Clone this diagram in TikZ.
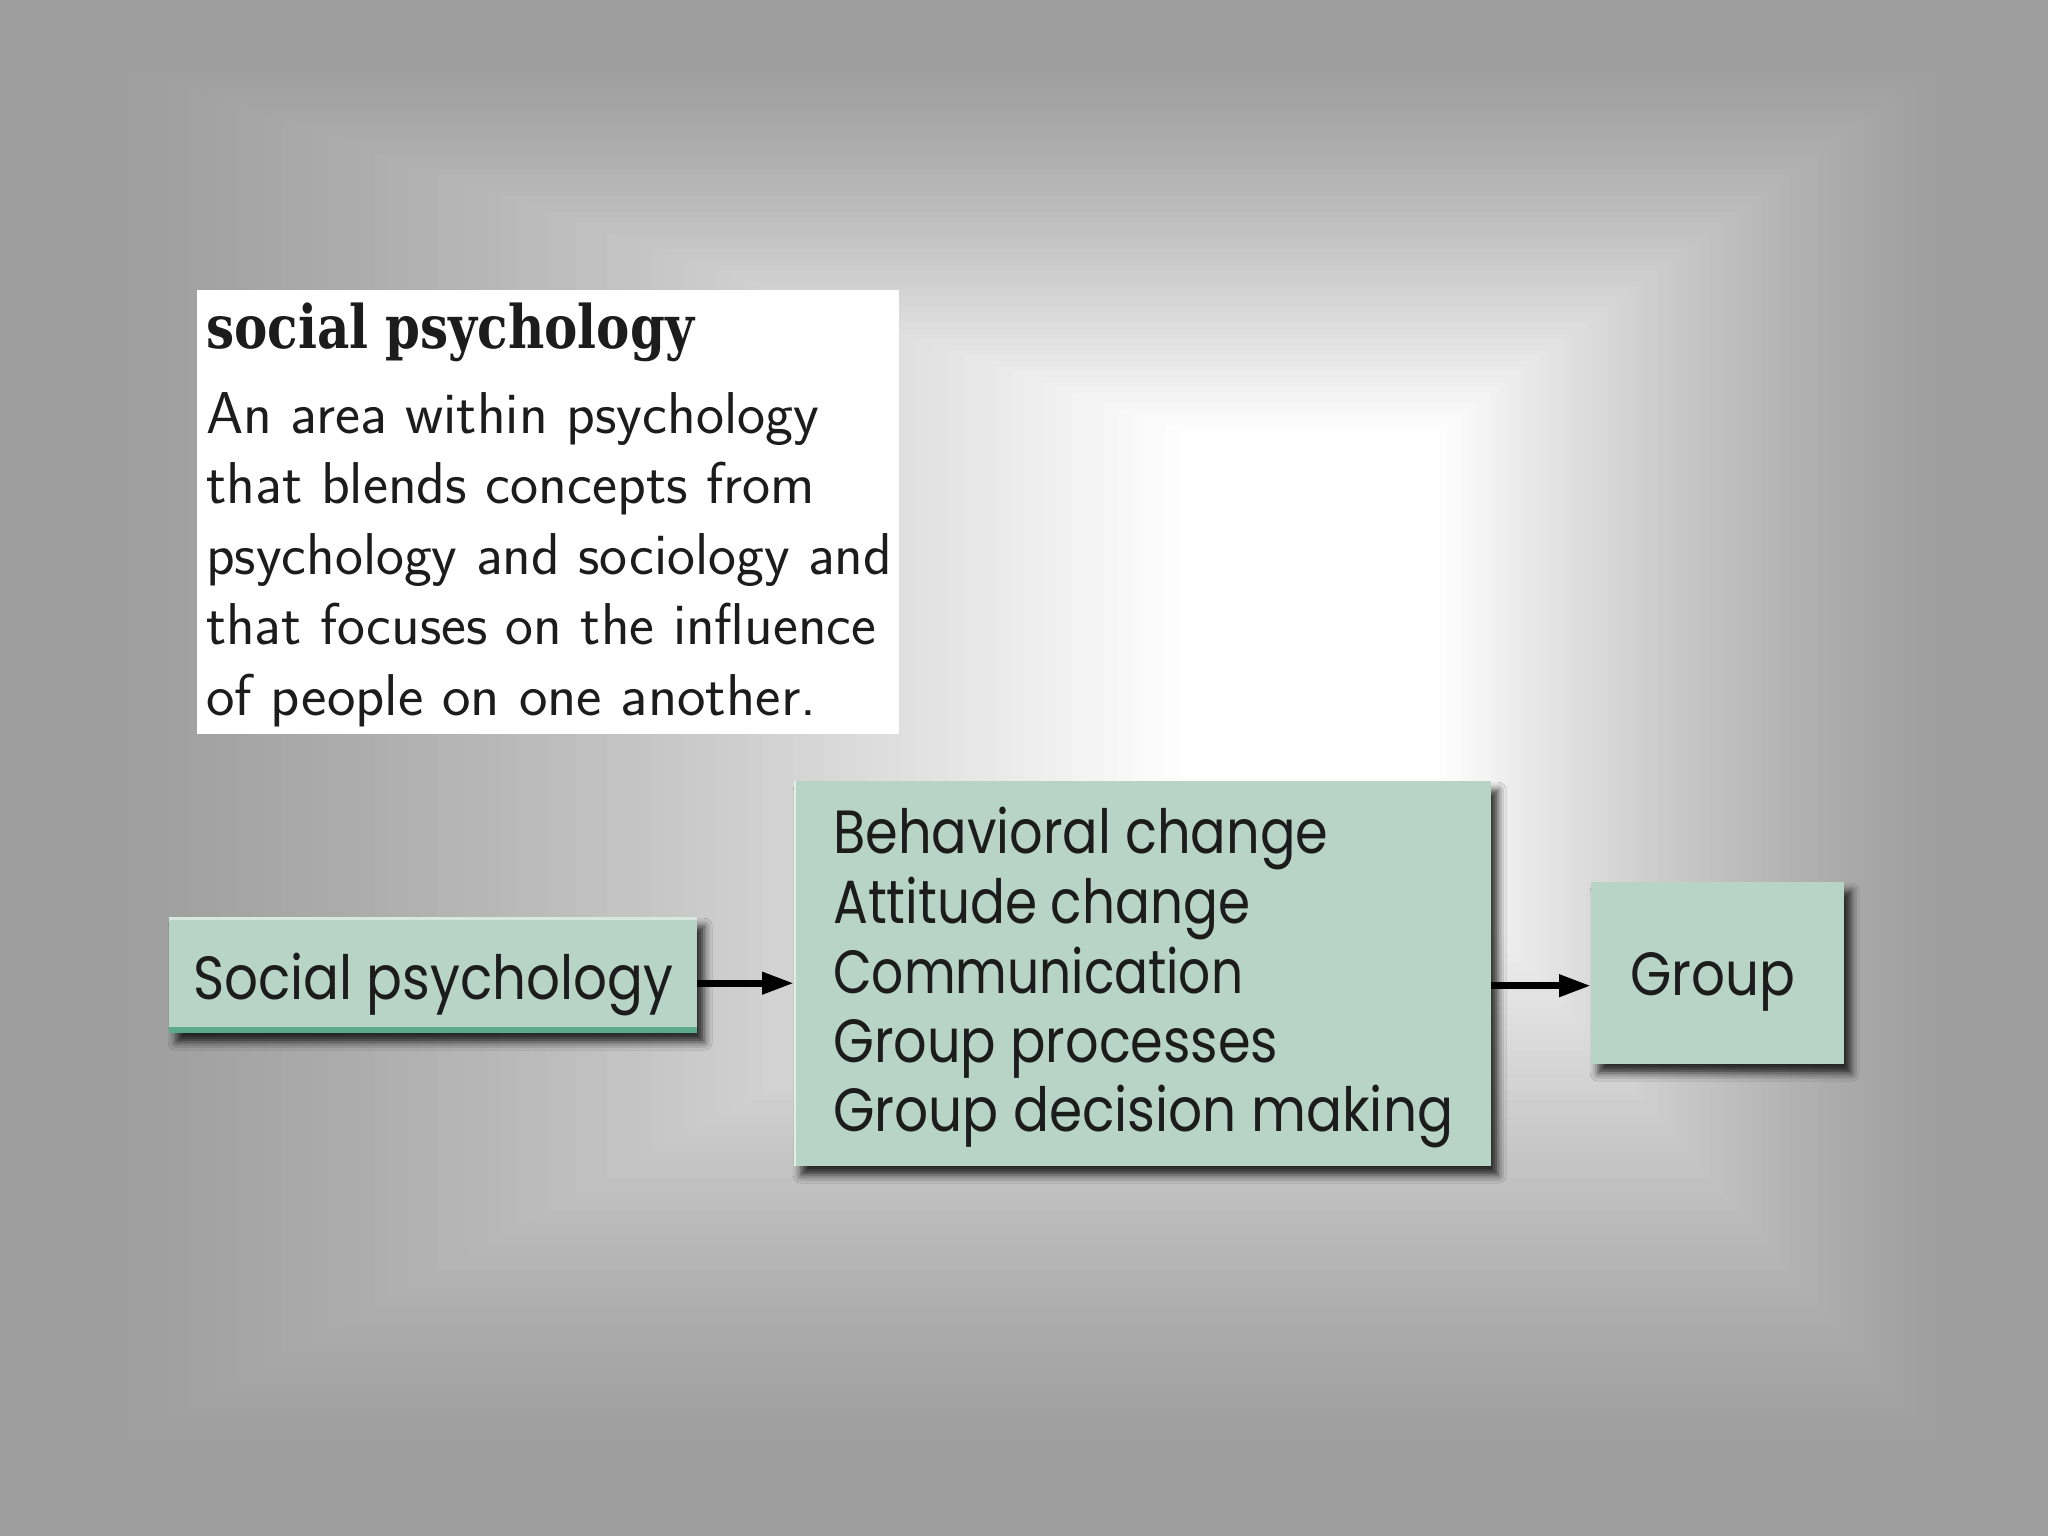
\documentclass[tikz,border=0pt]{standalone}
\usepackage{fontspec}
\usepackage{graphicx}
\usetikzlibrary{shadows.blur,arrows.meta}
\newfontfamily\boxfont{Poppins}
\newfontfamily\headfont{DejaVu Serif}
\definecolor{bggray}{HTML}{9E9E9E}
\definecolor{mint}{HTML}{B8D4C6}
\definecolor{stripe}{HTML}{5DAA8E}
\definecolor{ink}{HTML}{1C1C1C}
\newcommand{\fitw}[2]{\resizebox{#1}{\height}{#2}}
\begin{document}
\begin{tikzpicture}[x=1pt,y=-1pt,
  box/.style={fill=mint, draw=none, inner sep=0pt, rectangle, anchor=north west,
    blur shadow={shadow xshift=7pt, shadow yshift=-9pt, shadow blur radius=8pt, shadow opacity=80}},
  boxtxt/.style={anchor=base west, inner sep=0pt, text=ink, font=\boxfont\fontsize{61}{61}\selectfont},
  bodytxt/.style={anchor=base west, inner sep=0pt, text=ink, font=\sffamily\fontsize{59}{59}\selectfont},
  headtxt/.style={anchor=base west, inner sep=0pt, text=ink, font=\headfont\bfseries\fontsize{60}{60}\selectfont},
  conn/.style={line width=7pt, black, -{Triangle[length=32pt,width=21pt]}}
]
\useasboundingbox (0,0) rectangle (2048,1536);
% background: rectangular gradient
\fill[bggray] (0,0) rectangle (2048,1536);
\foreach \i in {0,...,70} {
  \pgfmathsetmacro\f{\i/70}
  \pgfmathsetmacro\pct{100*(\f^1.3)}
  \pgfmathsetmacro\xa{96+(1180-96)*\f}
  \pgfmathsetmacro\ya{57+(430-57)*\f}
  \pgfmathsetmacro\xb{1950-(1950-1440)*\f}
  \pgfmathsetmacro\yb{1460-(1460-860)*\f}
  \fill[white!\pct!bggray] (\xa,\ya) rectangle (\xb,\yb);
}
% definition box
\node[fill=white, inner sep=0pt, anchor=north west, minimum width=702pt, minimum height=444pt] (defbox) at (197,290) {};
\node[headtxt] (head) at (206,348) {\fitw{488pt}{social psychology}};
\node[bodytxt] (b1) at (206,433) {\fitw{613pt}{An area within psychology}};
\node[bodytxt] (b2) at (206,503.5) {\fitw{609pt}{that blends concepts from}};
\node[bodytxt] (b3) at (206,574) {\fitw{686pt}{psychology and sociology and}};
\node[bodytxt] (b4) at (206,644.5) {\fitw{670pt}{that focuses on the influence}};
\node[bodytxt] (b5) at (206,715) {\fitw{610pt}{of people on one another.}};
% boxes
\node[box, minimum width=528pt, minimum height=116pt] (sp) at (169,917) {};
\fill[stripe] ([yshift=6pt]sp.south west) rectangle (sp.south east);
\fill[white!45!mint] (sp.north west) rectangle ([yshift=-3pt]sp.north east);
\node[box, minimum width=697pt, minimum height=385pt] (mid) at (794,781) {};
\fill[white!60!mint] (mid.north west) rectangle ([xshift=2pt]mid.south west);
\node[box, minimum width=253pt, minimum height=182pt] (grp) at (1591,882) {};
% box texts
\node[boxtxt] (spt) at (193,999) {\fitw{480pt}{Social psychology}};
\node[boxtxt] (m1) at (833,853) {\fitw{495pt}{Behavioral change}};
\node[boxtxt] (m2) at (833,923) {\fitw{417pt}{Attitude change}};
\node[boxtxt] (m3) at (833,993) {\fitw{410pt}{Communication}};
\node[boxtxt] (m4) at (833,1062) {\fitw{445pt}{Group processes}};
\node[boxtxt] (m5) at (833,1131) {\fitw{620pt}{Group decision making}};
\node[boxtxt] (gt) at (1630,995) {\fitw{165pt}{Group}};
% connectors
\draw[conn] ([yshift=-8pt]sp.east) -- ([yshift=-8pt]sp.east -| mid.west);
\draw[conn] ([yshift=-12pt]mid.east) -- ([yshift=-12pt]mid.east -| grp.west);
\end{tikzpicture}
\end{document}
